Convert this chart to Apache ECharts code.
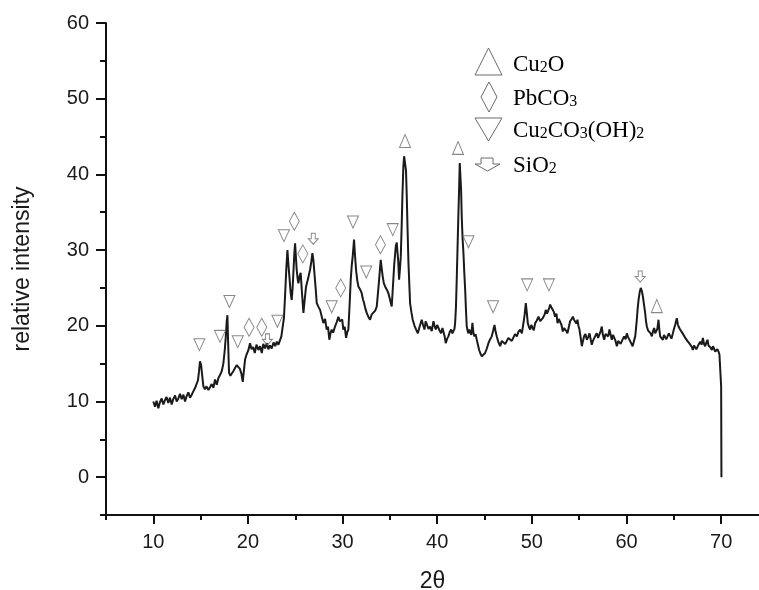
<!DOCTYPE html>
<html>
<head>
<meta charset="utf-8">
<script src="https://cdn.jsdelivr.net/npm/echarts@6/dist/echarts.min.js"></script>
<style>html,body{margin:0;padding:0;background:#fff}#c{width:759px;height:590px}</style>
</head>
<body>
<div id="c"></div>
<script>
// ---- data (2θ in degrees, relative intensity) ----
const angles = [
10.0,10.18,10.35,10.53,10.7,10.88,11.06,11.24,11.4,11.58,11.76,11.94,12.1,12.3,12.47,12.65,12.82,13.0,13.18,13.35,13.52,13.7,13.88,14.06,14.25,14.42,14.58,14.72,14.83,14.93,15.05,15.15,15.29,15.45,15.62,15.82,16.0,16.17,16.35,16.52,16.7,16.88,17.05,17.23,17.4,17.55,17.65,17.75,17.83,17.9,18.0,18.14,18.28,18.45,18.63,18.8,18.99,19.15,19.3,19.45,19.52,19.69,19.85,20.05,20.22,20.38,20.55,20.72,20.9,21.1,21.28,21.46,21.62,21.8,22.0,22.15,22.33,22.51,22.7,22.88,23.05,23.22,23.39,
23.53,23.67,23.8,23.92,24.05,24.17,24.28,24.38,24.5,24.62,24.72,24.8,24.9,24.98,25.07,25.15,25.25,25.33,25.45,25.57,25.7,25.86,26.0,26.14,26.35,26.56,26.7,26.81,26.92,27.02,27.15,27.27,27.45,27.62,27.8,27.97,28.15,28.32,28.46,28.6,28.72,28.85,29.0,29.2,29.38,29.56,29.7,29.84,29.96,30.08,30.22,30.37,30.5,30.61,30.75,30.86,30.97,31.07,31.21,31.3,31.42,31.55,31.67,31.85,32.02,32.15,32.27,32.4,32.55,32.72,32.9,33.08,33.26,33.45,33.61,33.75,33.86,33.95,34.03,34.14,34.24,34.36,34.49,34.66,34.84,35.0,35.19,35.3,35.45,35.62,35.72,35.79,35.88,35.97,36.06,36.15,36.25,36.32,36.42,36.5,36.6,36.7,36.78,36.87,36.96,37.05,37.13,37.27,37.41,37.6,37.77,37.95,
38.12,38.36,38.5,38.65,38.78,38.89,39.08,39.25,39.42,39.6,39.72,39.84,40.0,40.13,40.27,40.41,40.55,40.66,40.78,40.9,41.05,41.18,41.33,41.47,41.6,41.71,41.82,41.89,41.98,42.06,42.15,42.24,42.32,42.38,42.45,42.52,42.59,42.68,42.77,42.86,42.95,43.04,43.12,43.22,43.3,43.38,43.47,43.6,43.72,43.82,43.93,44.05,44.18,44.3,44.43,44.57,44.71,44.88,45.06,45.24,45.41,45.58,45.76,45.9,46.05,46.17,46.29,46.47,46.65,46.82,47.0,47.18,47.35,47.52,47.7,47.88,48.05,48.22,48.41,48.58,48.76,48.94,49.11,49.24,49.36,49.46,49.57,49.7,49.82,49.94,50.06,50.2,50.35,50.52,50.7,50.88,51.05,51.15,51.23,51.35,51.47,51.6,51.75,51.85,51.93,
52.07,52.21,52.33,52.46,52.6,52.71,52.85,52.99,53.13,53.27,53.4,53.52,53.65,53.76,53.9,54.04,54.2,54.33,54.45,54.57,54.7,54.82,54.92,55.03,55.15,55.28,55.4,55.52,55.66,55.81,55.95,56.09,56.2,56.33,56.45,56.58,56.72,56.86,57.0,57.15,57.27,57.39,57.5,57.64,57.78,57.92,58.06,58.2,58.32,58.45,58.57,58.7,58.84,58.98,59.12,59.26,59.38,59.51,59.63,59.75,59.9,60.03,60.17,60.32,60.45,60.56,60.65,60.74,60.83,60.92,61.0,61.09,61.18,61.27,61.4,61.51,61.62,61.73,61.85,61.97,62.06,62.15,62.27,62.4,62.55,62.68,62.8,62.92,63.03,63.14,63.26,63.38,63.47,63.56,63.7,63.84,63.96,64.09,64.2,64.33,64.47,64.61,64.75,64.9,65.02,65.14,65.23,65.32,65.42,65.5,65.62,65.74,65.88,66.02,66.16,66.31,66.43,66.55,66.68,66.8,66.9,67.01,67.13,67.26,67.38,67.5,67.65,67.79,67.93,68.07,68.19,68.31,68.44,68.56,68.66,68.77,68.9,69.02,69.14,69.26,69.37,69.48,69.6,69.72,69.82,69.92,70.0,70.03
];
const intensity = [
10.0,9.3,10.1,9.1,9.9,10.4,9.6,10.2,10.6,9.8,10.5,9.6,10.3,10.8,10.0,10.4,11.0,10.3,10.9,10.0,10.7,11.2,10.5,10.9,11.4,11.8,11.75,12.8,14.0,15.3,14.8,13.6,12.0,11.6,12.0,11.5,11.9,12.3,11.8,12.9,12.2,13.1,13.5,14.0,15.0,16.8,18.4,20.5,21.4,18.0,13.8,13.4,13.3,14.0,14.2,14.8,15.05,14.3,13.7,12.6,12.6,15.5,16.2,16.8,17.7,16.9,17.2,16.4,17.5,16.8,17.3,16.4,17.6,17.0,17.7,16.9,17.4,17.0,17.8,17.3,17.9,17.5,17.3,
18.6,18.6,21.0,23.9,27.5,30.0,28.0,26.5,24.5,23.4,25.0,27.0,29.5,30.9,29.0,27.4,26.2,25.6,26.5,27.0,24.5,21.7,23.5,25.2,26.2,27.4,28.5,29.6,28.6,27.0,25.0,23.0,22.5,22.1,21.2,20.35,20.9,19.5,19.9,18.15,19.0,19.5,19.1,19.9,20.5,21.2,20.6,20.35,20.8,19.5,19.9,18.4,19.2,19.5,23.0,26.1,28.0,29.2,31.4,29.5,27.4,26.0,25.2,24.8,24.3,23.5,23.0,22.3,21.7,21.2,20.8,21.5,21.7,22.0,22.55,24.5,26.1,27.5,28.7,27.5,26.5,25.6,25.2,24.8,24.3,23.5,22.55,24.8,28.0,30.5,31.0,30.9,28.5,26.1,27.5,29.2,33.5,37.1,41.0,42.4,42.6,40.5,37.1,32.5,28.3,25.5,23.0,21.8,20.8,20.0,19.5,19.0,
19.8,20.8,20.1,19.5,20.6,20.35,19.6,19.9,19.3,20.6,20.0,19.5,20.1,19.9,19.3,19.0,19.7,19.9,18.6,17.7,18.3,18.6,19.2,19.5,19.0,19.0,19.6,20.35,22.5,26.1,30.5,34.9,38.5,41.5,41.7,38.0,34.4,31.5,29.6,27.0,24.8,22.0,19.9,19.3,19.0,19.5,19.5,18.8,20.4,19.1,18.6,18.9,18.15,17.5,16.8,16.3,15.95,16.1,16.4,17.0,17.7,18.2,18.6,19.3,20.1,19.2,18.6,17.8,17.3,18.0,18.15,17.6,17.7,18.4,18.6,18.0,18.15,18.9,18.6,19.2,19.5,19.0,20.35,21.5,23.0,21.8,20.35,19.8,19.5,20.1,19.9,19.4,20.35,20.7,21.2,20.6,20.35,21.0,21.2,21.5,22.1,21.6,21.7,22.4,22.8,
22.4,22.1,21.8,21.2,21.6,20.35,20.9,20.8,20.1,19.25,19.7,19.9,19.3,19.0,19.8,20.6,20.9,21.2,20.8,20.6,20.3,20.8,20.0,19.5,18.5,17.3,18.0,18.6,18.9,18.15,18.5,19.0,18.3,17.5,18.0,18.15,18.7,19.0,18.4,18.6,19.3,19.9,18.8,18.15,18.9,19.0,18.6,19.5,18.8,18.15,18.8,18.6,18.0,17.3,18.0,18.15,17.6,17.7,18.3,18.6,18.2,19.0,18.5,18.4,17.8,17.9,17.3,17.5,18.2,18.6,19.6,20.8,22.3,23.4,24.5,25.0,24.6,23.9,22.8,21.7,20.6,19.9,19.4,19.5,19.0,18.6,19.3,19.7,19.0,18.8,19.6,20.8,19.5,18.6,18.4,18.15,18.8,19.0,18.2,18.4,19.0,18.8,18.3,19.0,19.6,20.1,20.6,21.0,20.2,19.9,19.6,19.5,19.1,19.0,18.5,18.6,18.0,18.15,17.6,17.7,17.2,16.8,17.4,17.5,16.9,17.05,17.6,17.9,17.5,18.4,17.6,17.3,17.8,18.15,17.4,17.5,17.1,16.8,17.3,17.05,16.6,16.4,16.9,16.6,16.2,16.0,12.0,0.0
];

// phase marker positions (2θ, height of the marker)
const cu2oX = [36.6, 42.2, 63.2];
const cu2oY = [44.4, 43.5, 22.6];
const pbco3X = [20.12, 21.46, 24.9, 25.8, 29.8, 34.0];
const pbco3Y = [19.8, 19.8, 33.8, 29.5, 25.0, 30.7];
const malX = [14.87, 17.05, 18.04, 18.92, 23.11, 23.8, 28.85, 31.1, 32.5, 35.3, 43.3, 45.9, 49.5, 51.8];
const malY = [17.5, 18.6, 23.2, 17.9, 20.6, 31.9, 22.5, 33.7, 27.1, 32.7, 31.1, 22.5, 25.4, 25.4];
const sio2X = [22.06, 26.9, 61.45];
const sio2Y = [18.2, 31.5, 26.5];

// axis ticks
const xMajor = [10, 20, 30, 40, 50, 60, 70];
const xMinor = [5, 15, 25, 35, 45, 55, 65];
const yMajor = [0, 10, 20, 30, 40, 50, 60];
const yMinor = [-5, 5, 15, 25, 35, 45, 55];

const downTri = 'path://M0,0L10,0L5,10Z';
const arrowSym = 'path://M3,0L7,0L7,5L10,5L5,10L0,5L3,5Z';
const markStyle = {color: 'rgba(255,255,255,0)', borderColor: '#6a6a6a', borderWidth: 1};
const zip = (a, b) => a.map((v, i) => [v, b[i]]);

const axisColor = '#111';
const sans = 'Liberation Sans, Arial, sans-serif';
const serif = 'Liberation Serif, Times New Roman, serif';

const chart = echarts.init(document.getElementById('c'), null, {renderer: 'canvas'});
const sub = {fontSize: 16, fontFamily: serif, color: '#1a1a1a', verticalAlign: 'bottom', lineHeight: 26};
const big = {fontSize: 23, fontFamily: serif, color: '#1a1a1a', verticalAlign: 'bottom', lineHeight: 26};

chart.setOption({
  animation: false,
  backgroundColor: '#fff',
  grid: {left: 106, right: 0, top: 23, bottom: 75, containLabel: false, outerBoundsMode: 'none'},
  xAxis: [{
    type: 'value', min: 5, max: 74, interval: 5, position: 'bottom',
    name: '2θ', nameLocation: 'middle', nameGap: 55,
    nameTextStyle: {fontSize: 23, fontFamily: sans, color: '#1a1a1a'},
    axisLine: {show: true, onZero: false, lineStyle: {color: axisColor, width: 2}},
    axisTick: {show: true, customValues: xMajor, length: 9, lineStyle: {color: axisColor, width: 2}},
    axisLabel: {customValues: xMajor, margin: 17, fontSize: 20, fontFamily: sans, color: '#1a1a1a'},
    splitLine: {show: false}
  }, {
    type: 'value', min: 5, max: 74, interval: 5, position: 'bottom',
    axisLine: {show: false, onZero: false},
    axisTick: {show: true, customValues: xMinor, length: 5, lineStyle: {color: axisColor, width: 2}},
    axisLabel: {show: false},
    splitLine: {show: false}
  }],
  yAxis: [{
    type: 'value', min: -5, max: 60, interval: 5, position: 'left',
    name: 'relative intensity', nameLocation: 'middle', nameGap: 72, nameRotate: 90,
    nameTextStyle: {fontSize: 23, fontFamily: sans, color: '#1a1a1a'},
    axisLine: {show: true, onZero: false, lineStyle: {color: axisColor, width: 2}},
    axisTick: {show: true, customValues: yMajor, length: 10, lineStyle: {color: axisColor, width: 2}},
    axisLabel: {customValues: yMajor, margin: 17, fontSize: 20, fontFamily: sans, color: '#1a1a1a'},
    splitLine: {show: false}
  }, {
    type: 'value', min: -5, max: 60, interval: 5, position: 'left',
    axisLine: {show: false, onZero: false},
    axisTick: {show: true, customValues: yMinor, length: 6, lineStyle: {color: axisColor, width: 2}},
    axisLabel: {show: false},
    splitLine: {show: false}
  }],
  series: [{
    type: 'line', name: 'XRD', data: zip(angles, intensity),
    showSymbol: false, symbol: 'none',
    lineStyle: {color: '#1a1a1a', width: 2}, z: 2
  }, {
    type: 'scatter', name: 'Cu2O', data: zip(cu2oX, cu2oY),
    symbol: 'triangle', symbolSize: [11, 13], itemStyle: markStyle, z: 3
  }, {
    type: 'scatter', name: 'PbCO3', data: zip(pbco3X, pbco3Y),
    symbol: 'diamond', symbolSize: [10, 18], itemStyle: markStyle, z: 3
  }, {
    type: 'scatter', name: 'Cu2CO3(OH)2', data: zip(malX, malY),
    symbol: downTri, symbolSize: [11, 12], itemStyle: markStyle, z: 3
  }, {
    type: 'scatter', name: 'SiO2', data: zip(sio2X, sio2Y),
    symbol: arrowSym, symbolSize: [10, 11], itemStyle: markStyle, z: 3
  }],
  graphic: [
    {type: 'polygon', shape: {points: [[475, 75], [488.5, 48], [502, 75]]}, style: {fill: 'none', stroke: '#6a6a6a', lineWidth: 1}},
    {type: 'polygon', shape: {points: [[489, 82], [497, 97], [489, 112], [481, 97]]}, style: {fill: 'none', stroke: '#6a6a6a', lineWidth: 1}},
    {type: 'polygon', shape: {points: [[475, 118], [502, 118], [488.5, 141]]}, style: {fill: 'none', stroke: '#6a6a6a', lineWidth: 1}},
    {type: 'polygon', shape: {points: [[481, 158], [493, 158], [493, 164], [500, 164], [487.5, 171], [475, 164], [481, 164]]}, style: {fill: 'none', stroke: '#6a6a6a', lineWidth: 1}},
    {type: 'text', x: 513, y: 63, style: {text: '{a|Cu}{s|2}{a|O}', rich: {a: big, s: sub}, verticalAlign: 'middle', align: 'left'}},
    {type: 'text', x: 513, y: 97, style: {text: '{a|PbCO}{s|3}', rich: {a: big, s: sub}, verticalAlign: 'middle', align: 'left'}},
    {type: 'text', x: 513, y: 129, style: {text: '{a|Cu}{s|2}{a|CO}{s|3}{a|(OH)}{s|2}', rich: {a: big, s: sub}, verticalAlign: 'middle', align: 'left'}},
    {type: 'text', x: 513, y: 164, style: {text: '{a|SiO}{s|2}', rich: {a: big, s: sub}, verticalAlign: 'middle', align: 'left'}}
  ]
});
</script>
</body>
</html>
